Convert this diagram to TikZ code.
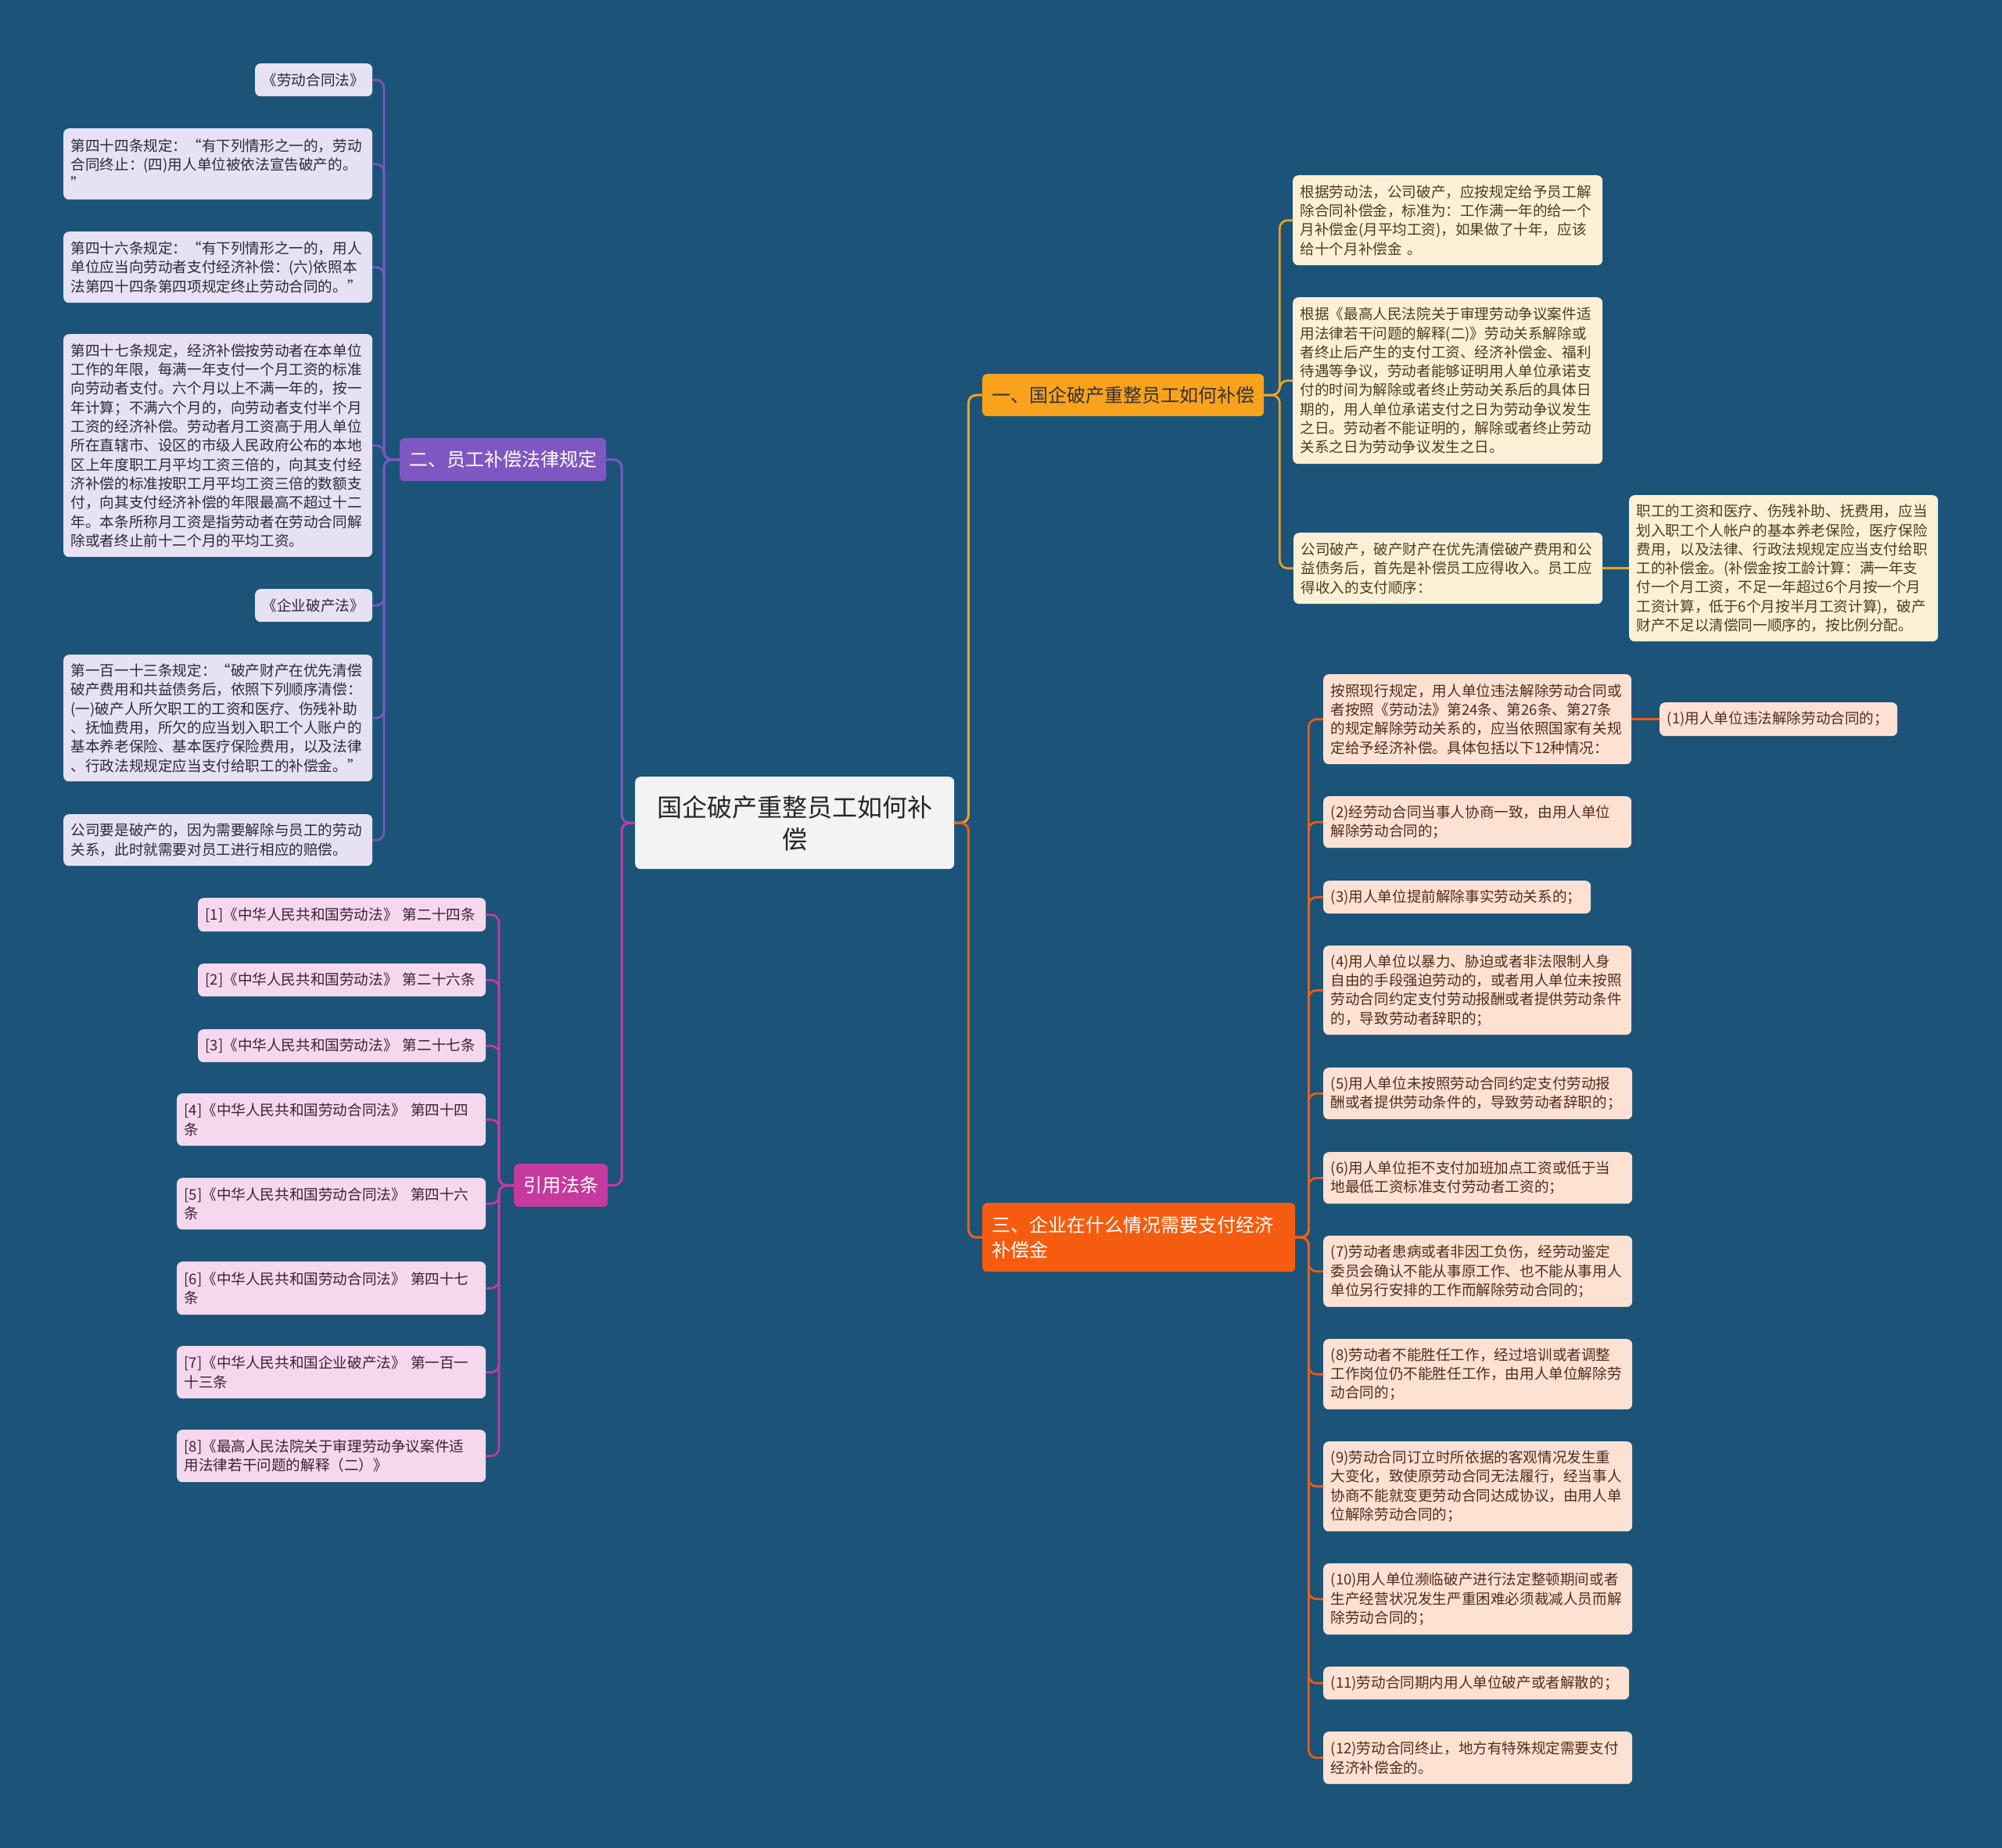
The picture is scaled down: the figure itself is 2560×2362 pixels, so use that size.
\documentclass[tikz,border=0pt]{standalone}
\usepackage{fontspec}
\newfontfamily\cjk{Noto Sans CJK SC}

\definecolor{bgblue}{RGB}{27,84,120}
\definecolor{rootfill}{RGB}{243,243,243}
\definecolor{ambermain}{RGB}{249,162,28}
\definecolor{amberfill}{RGB}{254,240,214}
\definecolor{ambertext}{RGB}{78,60,32}
\definecolor{lawmain}{RGB}{126,87,194}
\definecolor{lawfill}{RGB}{230,225,243}
\definecolor{lawtext}{RGB}{46,42,58}
\definecolor{citemain}{RGB}{198,58,160}
\definecolor{citefill}{RGB}{245,215,238}
\definecolor{citetext}{RGB}{58,36,51}
\definecolor{casemain}{RGB}{245,92,16}
\definecolor{casefill}{RGB}{253,225,210}
\definecolor{casetext}{RGB}{80,46,30}

\newcommand{\leaffont}{\cjk\fontsize{18.6}{24.3}\selectfont}

\tikzset{
    leafbox/.style={rounded corners=7pt, anchor=north west, align=left,
        inner xsep=9.5pt, inner ysep=0pt, font=\leaffont},
    lawleaf/.style={leafbox, fill=lawfill, text=lawtext},
    citeleaf/.style={leafbox, fill=citefill, text=citetext},
    amberleaf/.style={leafbox, fill=amberfill, text=ambertext},
    caseleaf/.style={leafbox, fill=casefill, text=casetext},
    branch/.style={rounded corners=6pt, anchor=north west, align=left,
        inner xsep=12pt, inner ysep=0pt, font=\cjk\fontsize{24}{32}\selectfont},
    link/.style={line width=2.6pt, rounded corners=10pt},
}

\begin{document}
\begin{tikzpicture}[x=1pt,y=-1pt]
    \useasboundingbox (0,0) rectangle (2560,2362);
    \fill[bgblue] (-6,-6) rectangle (2566,2368);

    % root and main branches
    \node[rounded corners=7pt, anchor=north west, fill=rootfill, text=black!85,
        font=\cjk\fontsize{32}{41}\selectfont, align=center, text width=352pt,
        inner xsep=28pt, minimum height=118pt] (root) at (812,993)
        {国企破产重整员工如何补\\偿};
    \node[branch, fill=ambermain, text=black!80, minimum height=54pt] (b1) at (1256,478)
        {一、国企破产重整员工如何补偿};
    \node[branch, fill=lawmain, text=white, minimum height=55pt] (b2) at (511,560)
        {二、员工补偿法律规定};
    \node[branch, fill=citemain, text=white, minimum height=55pt] (b3) at (657,1488)
        {引用法条};
    \node[branch, fill=casemain, text=white, text width=376pt, minimum height=88pt] (b4) at (1256,1538)
        {三、企业在什么情况需要支付经济\\补偿金};

    % 二、员工补偿法律规定
    \node[lawleaf, text width=131pt, minimum height=42pt] (l1) at (326,81) {《劳动合同法》};
    \node[lawleaf, text width=376pt, minimum height=91pt] (l2) at (81,164)
        {第四十四条规定：“有下列情形之一的，劳动\\合同终止：(四)用人单位被依法宣告破产的。\\”};
    \node[lawleaf, text width=376pt, minimum height=91pt] (l3) at (81,296)
        {第四十六条规定：“有下列情形之一的，用人\\单位应当向劳动者支付经济补偿：(六)依照本\\法第四十四条第四项规定终止劳动合同的。”};
    \node[lawleaf, text width=376pt, minimum height=285pt] (l4) at (81,427)
        {第四十七条规定，经济补偿按劳动者在本单位\\工作的年限，每满一年支付一个月工资的标准\\向劳动者支付。六个月以上不满一年的，按一\\年计算；不满六个月的，向劳动者支付半个月\\工资的经济补偿。劳动者月工资高于用人单位\\所在直辖市、设区的市级人民政府公布的本地\\区上年度职工月平均工资三倍的，向其支付经\\济补偿的标准按职工月平均工资三倍的数额支\\付，向其支付经济补偿的年限最高不超过十二\\年。本条所称月工资是指劳动者在劳动合同解\\除或者终止前十二个月的平均工资。};
    \node[lawleaf, text width=131pt, minimum height=42pt] (l5) at (326,753) {《企业破产法》};
    \node[lawleaf, text width=376pt, minimum height=162pt] (l6) at (81,837)
        {第一百一十三条规定：“破产财产在优先清偿\\破产费用和共益债务后，依照下列顺序清偿：\\(一)破产人所欠职工的工资和医疗、伤残补助\\、抚恤费用，所欠的应当划入职工个人账户的\\基本养老保险、基本医疗保险费用，以及法律\\、行政法规规定应当支付给职工的补偿金。”};
    \node[lawleaf, text width=376pt, minimum height=66pt] (l7) at (81,1041)
        {公司要是破产的，因为需要解除与员工的劳动\\关系，此时就需要对员工进行相应的赔偿。};

    % 引用法条
    \node[citeleaf, text width=349pt, minimum height=43pt] (c1) at (253,1148) {[1]《中华人民共和国劳动法》 第二十四条};
    \node[citeleaf, text width=349pt, minimum height=42pt] (c2) at (253,1232) {[2]《中华人民共和国劳动法》 第二十六条};
    \node[citeleaf, text width=349pt, minimum height=42pt] (c3) at (253,1316) {[3]《中华人民共和国劳动法》 第二十七条};
    \node[citeleaf, text width=376pt, minimum height=67pt] (c4) at (226,1398) {[4]《中华人民共和国劳动合同法》 第四十四\\条};
    \node[citeleaf, text width=376pt, minimum height=66pt] (c5) at (226,1506) {[5]《中华人民共和国劳动合同法》 第四十六\\条};
    \node[citeleaf, text width=376pt, minimum height=68pt] (c6) at (226,1613) {[6]《中华人民共和国劳动合同法》 第四十七\\条};
    \node[citeleaf, text width=376pt, minimum height=67pt] (c7) at (226,1721) {[7]《中华人民共和国企业破产法》 第一百一\\十三条};
    \node[citeleaf, text width=376pt, minimum height=67pt] (c8) at (226,1828) {[8]《最高人民法院关于审理劳动争议案件适\\用法律若干问题的解释（二）》};

    % 一、国企破产重整员工如何补偿
    \node[amberleaf, text width=377pt, minimum height=115pt] (r1) at (1653,224)
        {根据劳动法，公司破产，应按规定给予员工解\\除合同补偿金，标准为：工作满一年的给一个\\月补偿金(月平均工资)，如果做了十年，应该\\给十个月补偿金 。};
    \node[amberleaf, text width=377pt, minimum height=213pt] (r2) at (1653,380)
        {根据《最高人民法院关于审理劳动争议案件适\\用法律若干问题的解释(二)》劳动关系解除或\\者终止后产生的支付工资、经济补偿金、福利\\待遇等争议，劳动者能够证明用人单位承诺支\\付的时间为解除或者终止劳动关系后的具体日\\期的，用人单位承诺支付之日为劳动争议发生\\之日。劳动者不能证明的，解除或者终止劳动\\关系之日为劳动争议发生之日。};
    \node[amberleaf, text width=376pt, minimum height=91pt] (r3) at (1654,681)
        {公司破产，破产财产在优先清偿破产费用和公\\益债务后，首先是补偿员工应得收入。员工应\\得收入的支付顺序：};
    \node[amberleaf, text width=376pt, minimum height=187pt] (r3a) at (2083,633)
        {职工的工资和医疗、伤残补助、抚费用，应当\\划入职工个人帐户的基本养老保险，医疗保险\\费用，以及法律、行政法规规定应当支付给职\\工的补偿金。(补偿金按工龄计算：满一年支\\付一个月工资，不足一年超过6个月按一个月\\工资计算，低于6个月按半月工资计算)，破产\\财产不足以清偿同一顺序的，按比例分配。};

    % 三、企业在什么情况需要支付经济补偿金
    \node[caseleaf, text width=375pt, minimum height=115pt] (o0) at (1692,862)
        {按照现行规定，用人单位违法解除劳动合同或\\者按照《劳动法》第24条、第26条、第27条\\的规定解除劳动关系的，应当依照国家有关规\\定给予经济补偿。具体包括以下12种情况：};
    \node[caseleaf, text width=285pt, minimum height=43pt] (o1) at (2122,898) {(1)用人单位违法解除劳动合同的；};
    \node[caseleaf, text width=375pt, minimum height=66pt] (o2) at (1692,1018)
        {(2)经劳动合同当事人协商一致，由用人单位\\解除劳动合同的；};
    \node[caseleaf, text width=323pt, minimum height=42pt] (o3) at (1692,1126) {(3)用人单位提前解除事实劳动关系的；};
    \node[caseleaf, text width=375pt, minimum height=114pt] (o4) at (1692,1209)
        {(4)用人单位以暴力、胁迫或者非法限制人身\\自由的手段强迫劳动的，或者用人单位未按照\\劳动合同约定支付劳动报酬或者提供劳动条件\\的，导致劳动者辞职的；};
    \node[caseleaf, text width=376pt, minimum height=66pt] (o5) at (1692,1365)
        {(5)用人单位未按照劳动合同约定支付劳动报\\酬或者提供劳动条件的，导致劳动者辞职的；};
    \node[caseleaf, text width=376pt, minimum height=66pt] (o6) at (1692,1473)
        {(6)用人单位拒不支付加班加点工资或低于当\\地最低工资标准支付劳动者工资的；};
    \node[caseleaf, text width=376pt, minimum height=91pt] (o7) at (1692,1580)
        {(7)劳动者患病或者非因工负伤，经劳动鉴定\\委员会确认不能从事原工作、也不能从事用人\\单位另行安排的工作而解除劳动合同的；};
    \node[caseleaf, text width=376pt, minimum height=90pt] (o8) at (1692,1712)
        {(8)劳动者不能胜任工作，经过培训或者调整\\工作岗位仍不能胜任工作，由用人单位解除劳\\动合同的；};
    \node[caseleaf, text width=376pt, minimum height=115pt] (o9) at (1692,1843)
        {(9)劳动合同订立时所依据的客观情况发生重\\大变化，致使原劳动合同无法履行，经当事人\\协商不能就变更劳动合同达成协议，由用人单\\位解除劳动合同的；};
    \node[caseleaf, text width=376pt, minimum height=91pt] (o10) at (1692,1999)
        {(10)用人单位濒临破产进行法定整顿期间或者\\生产经营状况发生严重困难必须裁减人员而解\\除劳动合同的；};
    \node[caseleaf, text width=372pt, minimum height=42pt] (o11) at (1692,2131) {(11)劳动合同期内用人单位破产或者解散的；};
    \node[caseleaf, text width=376pt, minimum height=67pt] (o12) at (1692,2214)
        {(12)劳动合同终止，地方有特殊规定需要支付\\经济补偿金的。};

    % spine points
    \coordinate (cl) at ([xshift=-17pt]root.west);
    \coordinate (cr) at ([xshift=18pt]root.east);
    \coordinate (s1) at ([xshift=20pt]b1.east);
    \coordinate (s2) at ([xshift=-20pt]b2.west);
    \coordinate (s3) at ([xshift=-19pt]b3.west);
    \coordinate (s4) at ([xshift=17pt]b4.east);

    % connectors
    \draw[link, line width=3pt, lawmain] (root.west) -- (cl) |- (b2.east);
    \draw[link, line width=3pt, citemain] (root.west) -- (cl) |- (b3.east);
    \draw[link, line width=3pt, ambermain] (root.east) -- (cr) |- (b1.west);
    \draw[link, line width=3pt, casemain] (root.east) -- (cr) |- (b4.west);
    \foreach \n in {l1,l2,l3,l4,l5,l6,l7}
        \draw[link, lawmain] (b2.west) -- (s2) |- (\n.east);
    \foreach \n in {c1,c2,c3,c4,c5,c6,c7,c8}
        \draw[link, citemain] (b3.west) -- (s3) |- (\n.east);
    \foreach \n in {r1,r2,r3}
        \draw[link, ambermain] (b1.east) -- (s1) |- (\n.west);
    \draw[link, ambermain] (r3.east) -- (r3a.west);
    \foreach \n in {o0,o2,o3,o4,o5,o6,o7,o8,o9,o10,o11,o12}
        \draw[link, casemain] (b4.east) -- (s4) |- (\n.west);
    \draw[link, casemain] (o0.east) -- (o1.west);
\end{tikzpicture}
\end{document}
